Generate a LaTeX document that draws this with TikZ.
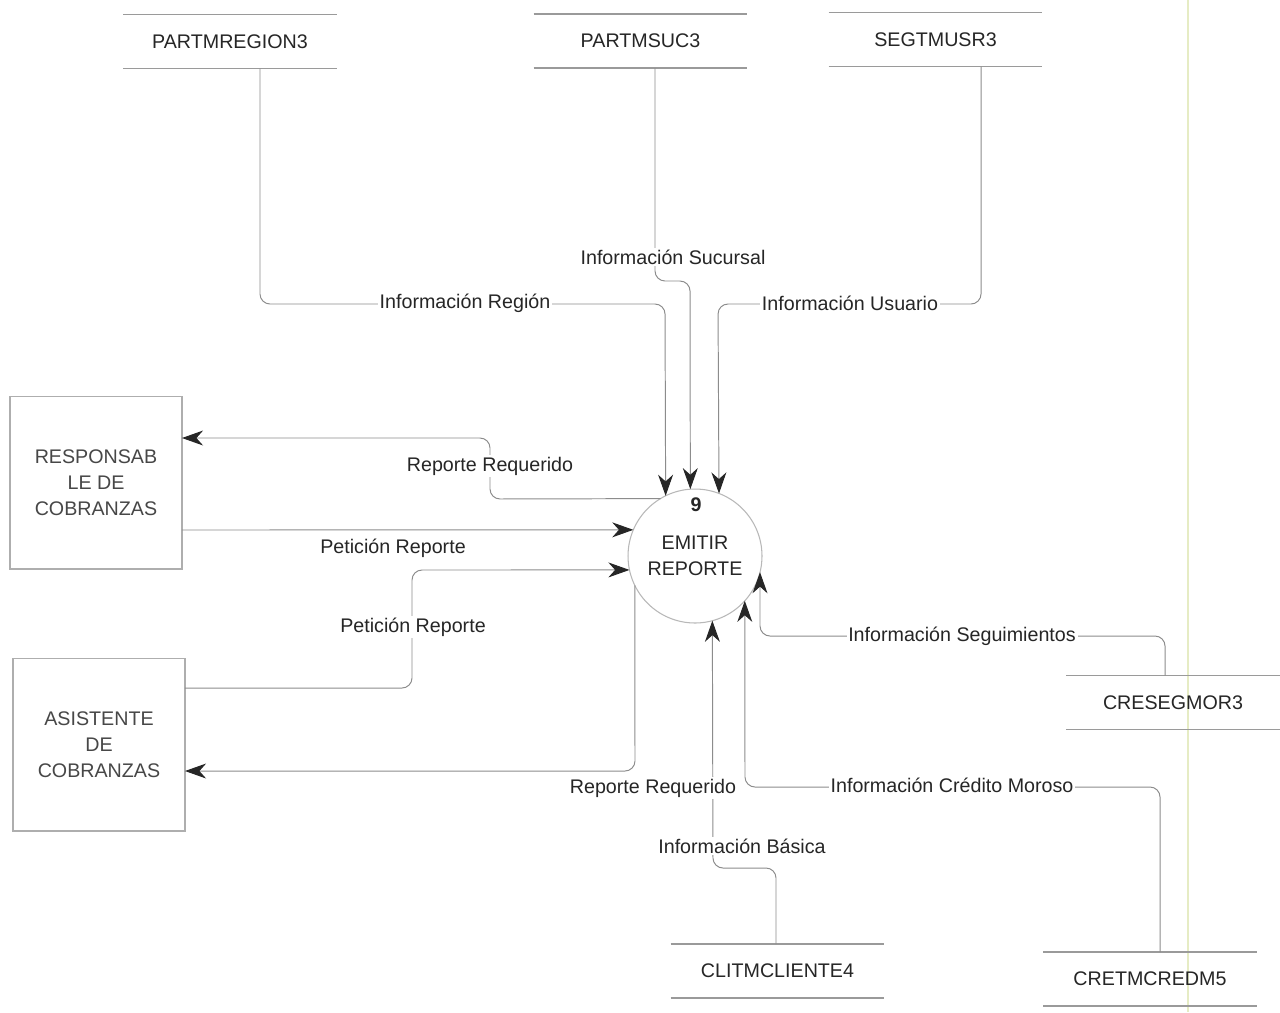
\documentclass[tikz,border=0pt]{standalone}
\usepackage{fontspec}
\setmainfont{Liberation Sans}
\usetikzlibrary{arrows.meta}
\definecolor{ink}{HTML}{262626}
\definecolor{wire}{HTML}{8C8C8C}
\definecolor{rule}{HTML}{9A9A9A}
\definecolor{scanline}{RGB}{230,236,196}
\begin{document}
\begin{tikzpicture}[x=0.02cm,y=-0.02cm,
  every node/.style={font=\fontsize{11.2}{14.7}\selectfont, text=ink},
  store/.style={minimum width=4.28cm, minimum height=1.08cm, inner sep=0pt, outer sep=0pt},
  storeline/.style={draw=rule, line width=0.8pt},
  entity/.style={draw=rule!80, line width=0.6pt, minimum width=3.44cm, minimum height=3.46cm,
                 align=center, text=ink!85, outer sep=0pt},
  proc/.style={circle, draw=rule!70, line width=0.6pt, minimum size=2.68cm, inner sep=0pt,
               outer sep=0pt, align=center},
  flow/.style={draw=wire, line width=0.55pt, rounded corners=0.2cm,
               -{Stealth[length=12pt,width=8.5pt,inset=3.8pt,color=ink]}},
  lbl/.style={fill=white, inner sep=1pt},
]
% page
\fill[white] (0,0) rectangle (1280,1012);
\useasboundingbox (0,0) rectangle (1280,1012);
\draw[scanline, line width=1pt] (1188,0) -- (1188,1012);

% data stores
\node[store] (reg)  at (230,41.5)  {PARTMREGION3};
\node[store] (suc)  at (640.5,41)  {PARTMSUC3};
\node[store] (usr)  at (935.5,39.5) {SEGTMUSR3};
\node[store] (cseg) at (1173,702.5) {CRESEGMOR3};
\node[store] (cli)  at (777.5,971) {CLITMCLIENTE4};
\node[store] (cred) at (1150,979)  {CRETMCREDM5};
\foreach \s in {reg,suc,usr,cseg,cli,cred}
  \draw[storeline] (\s.north west) -- (\s.north east) (\s.south west) -- (\s.south east);

% external entities
\node[entity] (resp) at (96,482.5)  {RESPONSAB\\LE DE\\COBRANZAS};
\node[entity] (asis) at (99,744.5)  {ASISTENTE\\DE\\COBRANZAS};

% process
\node[proc] (p) at (695,556) {EMITIR\\REPORTE};
\node[font=\fontsize{11.2}{14.7}\selectfont\bfseries] (num) at (696,505) {9};

% flows from the top stores
\draw[flow] (reg.south -| 260,0) -- (260,304) -- (665,304) -- (p.116.6);
\node[lbl] (lreg) at (465,303) {Información Región};

\draw[flow] (suc.south -| 655,0) -- (655,281) -- (690,281) -- (p.94.3);
\node[lbl] (lsuc) at (673,257) {Información Sucursal};

\draw[flow] (usr.south -| 981,0) -- (981,304) -- (718,304) -- (p.69.9);
\node[lbl] (lusr) at (850,303) {Información Usuario};

% flows with the entities
\draw[flow] (p.121.7) -- (490,499) -- (490,438) -- (resp.east |- 0,438);
\node[lbl] (lrr1) at (490,466) {Reporte Requerido};

\draw[flow] (resp.east |- 0,530) -- (p.157.1);
\node (lpr1) at (393,548) {Petición Reporte};

\draw[flow] (asis.east |- 0,688) -- (412,688) -- (412,570) -- (p.192.1);
\node[lbl] (lpr2) at (413,627) {Petición Reporte};

\draw[flow] (p.206.4) -- (635,771) -- (asis.east |- 0,771);

% flows from the lower stores
\draw[flow] (cli.north -| 776,0) -- (776,868) -- (713,868) -- (p.285.6);
\node[lbl] (lcli) at (742,846) {Información Básica};
\node[lbl] (lrr2) at (653,788) {Reporte Requerido};

\draw[flow] (cred.north -| 1160,0) -- (1160,787) -- (745,787) -- (p.318.3);
\node[lbl] (lcred) at (952,785) {Información Crédito Moroso};

\draw[flow] (cseg.north -| 1165,0) -- (1165,636) -- (760,636) -- (p.346);
\node[lbl] (lcseg) at (962,636) {Información Seguimientos};
\end{tikzpicture}
\end{document}
